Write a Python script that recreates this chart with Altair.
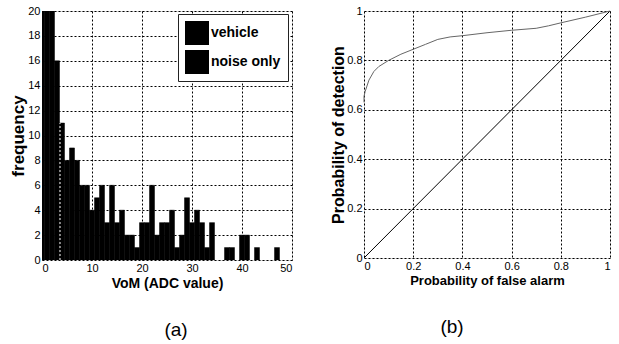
import altair as alt
import pandas as pd

# ---- histogram (a) ----
bin_centers = list(range(0, 48))
counts = [20, 20, 20, 16, 11, 8, 9, 8, 6, 6, 4, 5, 6, 3, 6, 3, 4, 2, 2, 1,
          3, 3, 6, 2, 3, 3, 4, 1, 2, 5, 3, 4, 3, 1, 3, 0, 0, 1, 1, 0,
          2, 2, 0, 1, 0, 0, 0, 1]
series_names = ["vehicle", "noise only"]
artifact_x = [3.6]
artifact_top = [11]

# ---- ROC (b) ----
pfa = [0.0, 0.0, 0.005, 0.02, 0.04, 0.06, 0.1, 0.15, 0.2, 0.25, 0.3, 0.35,
       0.4, 0.5, 0.6, 0.7, 0.75, 0.8, 0.9, 1.0]
pd_ = [0.63, 0.655, 0.675, 0.72, 0.755, 0.775, 0.80, 0.825, 0.845, 0.865,
       0.885, 0.895, 0.90, 0.912, 0.922, 0.93, 0.94, 0.952, 0.975, 1.0]
chance_x = [0.0, 1.0]
chance_y = [0.0, 1.0]

FONT = "Liberation Sans"


def axis(values, title, tsize, tpad, fmt=None):
    kw = dict(values=values, title=title, titleFontSize=tsize, titleFontWeight="bold",
              titleFont=FONT, titleColor="black", grid=True, gridColor="black",
              gridDash=[2, 2], gridWidth=1, gridOpacity=1, domain=False, ticks=False,
              labelFont=FONT, labelFontSize=11, labelColor="black", labelOverlap=False,
              labelPadding=2, titlePadding=tpad)
    if fmt:
        kw["format"] = fmt
    return alt.Axis(**kw)


hist_df = pd.DataFrame({
    "start": [c - 0.5 for c in bin_centers],
    "end": [c + 0.5 for c in bin_centers],
    "count": counts,
    "series": ["vehicle"] * len(counts),
})
hist_df = hist_df[hist_df["count"] > 0]

art_df = pd.DataFrame({"x": artifact_x, "y0": [0] * len(artifact_x), "y1": artifact_top})

xs = alt.Scale(domain=[0, 50], nice=False, zero=False)
ys = alt.Scale(domain=[0, 20], nice=False)
hx_axis = axis(list(range(0, 51, 10)), "VoM (ADC value)", 14, 3)
hy_axis = axis(list(range(0, 21, 2)), "frequency", 17, 0)

bars = alt.Chart(hist_df).mark_rect(clip=True, stroke="black", strokeWidth=0.5).encode(
    x=alt.X("start:Q", scale=xs, axis=hx_axis),
    x2="end:Q",
    y=alt.Y("count:Q", scale=ys, axis=hy_axis),
    y2=alt.datum(0),
    color=alt.Color("series:N",
                    scale=alt.Scale(domain=series_names, range=["black", "black"]),
                    legend=alt.Legend(title=None, orient="none", legendX=136, legendY=3,
                                      symbolType="square", symbolSize=576,
                                      symbolFillColor="black", symbolStrokeColor="black",
                                      labelFontSize=14, labelFont=FONT, labelColor="black",
                                      labelFontWeight="bold",
                                      strokeColor="#222", fillColor="white",
                                      padding=7, rowPadding=5, labelOffset=2,
                                      symbolStrokeWidth=0)),
)

art = alt.Chart(art_df).mark_rule(color="white", strokeDash=[2, 2], strokeWidth=1).encode(
    x=alt.X("x:Q", scale=xs, axis=hx_axis),
    y=alt.Y("y0:Q", scale=ys, axis=hy_axis), y2="y1:Q")

left = alt.layer(bars, art).properties(
    width=250, height=249,
    title=alt.TitleParams("(a)", orient="bottom", fontSize=19, font=FONT,
                          fontWeight="normal", dx=9, offset=31))

roc_df = pd.DataFrame({"pfa": pfa, "pd": pd_})
ch_df = pd.DataFrame({"pfa": chance_x, "pd": chance_y})

rx = alt.Scale(domain=[0, 1], nice=False)
ry = alt.Scale(domain=[0, 1], nice=False)
ticks01 = [0, 0.2, 0.4, 0.6, 0.8, 1]
rx_axis = axis(ticks01, "Probability of false alarm", 13, 3, "~g")
ry_axis = axis(ticks01, "Probability of detection", 16, 0, "~g")

diag = alt.Chart(ch_df).mark_line(color="black", strokeWidth=1).encode(
    x=alt.X("pfa:Q", scale=rx, axis=rx_axis), y=alt.Y("pd:Q", scale=ry, axis=ry_axis))
roc = alt.Chart(roc_df).mark_line(color="#666", strokeWidth=1).encode(
    x=alt.X("pfa:Q", scale=rx, axis=rx_axis), y=alt.Y("pd:Q", scale=ry, axis=ry_axis))

right = alt.layer(diag, roc).properties(
    width=246, height=247,
    title=alt.TitleParams("(b)", orient="bottom", fontSize=19, font=FONT,
                          fontWeight="normal", dx=-35, offset=31))

chart = alt.hconcat(left, right, spacing=37).properties(
    padding={"left": 9, "top": 4, "right": 0, "bottom": 0}
).configure_view(stroke="black", strokeWidth=1).configure(background="white")

chart.save("out.html", embed_options={"renderer": "svg", "actions": False})
